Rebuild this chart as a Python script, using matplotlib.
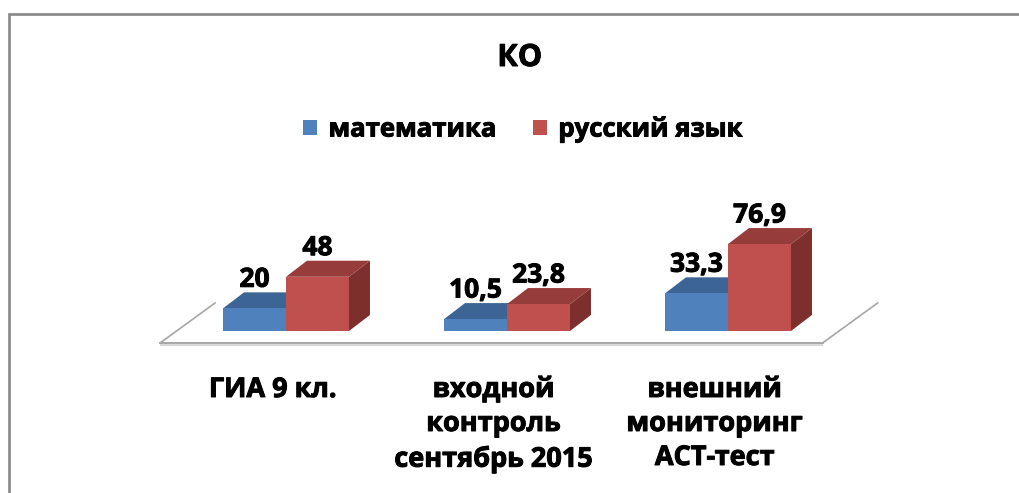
import matplotlib
matplotlib.use('Agg')
import matplotlib.pyplot as plt
import matplotlib.patheffects as pe
from matplotlib.patches import Polygon, Rectangle, Patch

plt.rcParams['font.family'] = ['Open Sans', 'DejaVu Sans']
plt.rcParams['font.weight'] = 'bold'

title = 'КО'
categories = ['ГИА 9 кл.', 'входной\nконтроль\nсентябрь 2015', 'внешний\nмониторинг\nАСТ-тест']
series_names = ['математика', 'русский язык']
math_values = [20, 10.5, 33.3]
rus_values = [48, 23.8, 76.9]

front_colors = ['#4F81BD', '#C0504D']
top_colors = ['#3C6494', '#963C3A']
side_colors = ['#2F5079', '#7C2F2D']

# a thin stroke makes the bold text a bit heavier, like the original
heavy = [pe.withStroke(linewidth=0.7, foreground='black')]

fig = plt.figure(figsize=(10.19, 4.93), dpi=100)
ax = fig.add_axes([0, 0, 1, 1])
ax.axis('off')
# 1 category step = 221 px, 1 value unit = 1.13 px, baseline at 162 px from bottom
ax.set_xlim(-286 / 221, (1019 - 286) / 221)
ax.set_ylim(-162 / 1.13, 331 / 1.13)

bar_w = 0.285
ddx, ddy = 0.095, 14.2

# floor
fl_x0, fl_x1 = -0.57, 2.428
fl_front, fl_dx, fl_dy = -10.6, 0.249, 35.4
ax.plot([fl_x0, fl_x1], [fl_front - 1.2, fl_front - 1.2], color='#d9d9d9', lw=3, solid_capstyle='butt')
ax.plot([fl_x0, fl_x1], [fl_front, fl_front], color='#a0a0a0', lw=1.2)
for x in (fl_x0, fl_x1):
    ax.plot([x, x + fl_dx], [fl_front, fl_front + fl_dy], color='#a6a6a6', lw=1.2)


def bar3d(x0, h, k):
    ax.add_patch(Polygon([(x0 + bar_w, 0), (x0 + bar_w + ddx, ddy), (x0 + bar_w + ddx, h + ddy), (x0 + bar_w, h)],
                         closed=True, facecolor=side_colors[k], edgecolor='none'))
    ax.add_patch(Polygon([(x0, h), (x0 + bar_w, h), (x0 + bar_w + ddx, h + ddy), (x0 + ddx, h + ddy)],
                         closed=True, facecolor=top_colors[k], edgecolor='none'))
    ax.add_patch(Rectangle((x0, 0), bar_w, h, facecolor=front_colors[k], edgecolor='none'))
    lab = '{:g}'.format(h).replace('.', ',')
    ax.text(x0 + bar_w / 2, h + ddy + 4.9, lab, ha='center', va='baseline', fontsize=19,
            fontweight='bold', path_effects=heavy)


for i in range(len(categories)):
    bar3d(i - bar_w, math_values[i], 0)
    bar3d(i, rus_values[i], 1)
    ax.text(i - 0.06, -40.7, categories[i], ha='center', va='top', fontsize=19.5,
            fontweight='bold', linespacing=1.4, multialignment='center', path_effects=heavy)

fig.text(0.51, 1 - 58 / 493, title, ha='center', va='center', fontsize=22, fontweight='bold',
         path_effects=heavy)

handles = [Patch(facecolor=c, edgecolor='none') for c in front_colors]
leg = fig.legend(handles, series_names, loc='center', bbox_to_anchor=(0.513, 1 - 129 / 493), ncol=2,
                 frameon=False, prop={'size': 18.5, 'weight': 'bold'}, handlelength=0.55, handleheight=0.55,
                 handletextpad=0.45, columnspacing=1.4)
for t in leg.get_texts():
    t.set_path_effects(heavy)

fig.patches.append(Rectangle((9 / 1019, -0.1), 1.2, 1.1 - 14 / 493, transform=fig.transFigure,
                             fill=False, edgecolor='#8c8c8c', lw=2))

fig.savefig('out.png', dpi=100)
